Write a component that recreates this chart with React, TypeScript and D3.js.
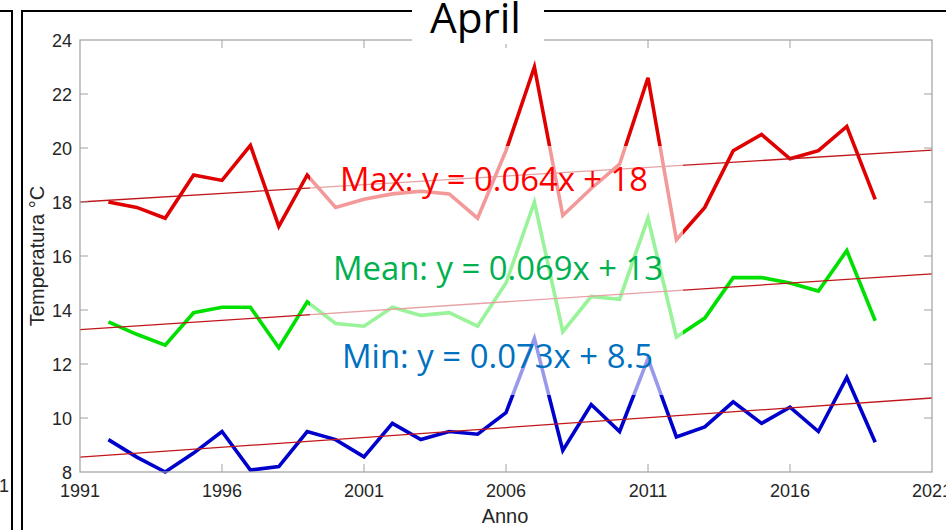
import React from "react";
import * as d3 from "d3";

const years = [1992, 1993, 1994, 1995, 1996, 1997, 1998, 1999, 2000, 2001, 2002, 2003, 2004, 2005, 2006, 2007, 2008, 2009, 2010, 2011, 2012, 2013, 2014, 2015, 2016, 2017, 2018, 2019];
const maxTemps = [18.0, 17.8, 17.4, 19.0, 18.8, 20.1, 17.1, 19.0, 17.8, 18.1, 18.3, 18.4, 18.3, 17.4, 19.9, 23.0, 17.5, 18.5, 19.4, 22.6, 16.6, 17.8, 19.9, 20.5, 19.6, 19.9, 20.8, 18.1];
const meanTemps = [13.56, 13.1, 12.7, 13.9, 14.1, 14.1, 12.6, 14.3, 13.5, 13.4, 14.1, 13.8, 13.9, 13.4, 15.0, 18.0, 13.2, 14.5, 14.4, 17.4, 13.0, 13.7, 15.2, 15.2, 15.0, 14.7, 16.2, 13.6];
const minTemps = [9.2, 8.55, 8.0, 8.7, 9.5, 8.07, 8.2, 9.5, 9.2, 8.56, 9.8, 9.2, 9.5, 9.4, 10.2, 12.95, 8.8, 10.5, 9.5, 12.2, 9.3, 9.67, 10.6, 9.8, 10.4, 9.5, 11.5, 9.1];

const seriesNames = ["Max", "Mean", "Min"];
const seriesColors = ["#e00000", "#00e000", "#0000cc"];
const trendSlopes = [0.064, 0.069, 0.073];
const trendStart = [18.0, 13.27, 8.55]; // value at 1991
const labelTexts = ["Max: y = 0.064x + 18", "Mean: y = 0.069x + 13", "Min: y = 0.073x + 8.5"];
const labelColors = ["#ff0000", "#00b050", "#0070c0"];

const xTicks = [1991, 1996, 2001, 2006, 2011, 2016, 2021];
const yTicks = [8, 10, 12, 14, 16, 18, 20, 22, 24];

const W = 946;
const H = 530;
const L = 80, R = 932, T = 40, B = 472;

export default function App() {
  const x = d3.scaleLinear().domain([1991, 2021]).range([L, R]);
  const y = d3.scaleLinear().domain([8, 24]).range([B, T]);
  const line = d3.line<[number, number]>().x((d) => x(d[0])).y((d) => y(d[1]));
  const data = [maxTemps, meanTemps, minTemps];
  const axisColor = "#a0a0a0";
  const tickColor = "#262626";
  const tickFont = "'Liberation Sans', Arial, Helvetica, sans-serif";

  return (
    <svg width={W} height={H} style={{ position: "absolute", left: 0, top: 0, background: "#fff" }}>
      <rect x={0} y={0} width={W} height={H} fill="#fff" />
      {/* previous panel fragments */}
      <path d="M0,11 H12 V530" fill="none" stroke="#000" strokeWidth={2} />
      <text x={-1} y={492} fontFamily={tickFont} fontSize={18} fill={tickColor}>1</text>
      {/* frame */}
      <path d={`M22,530 V11 H946`} fill="none" stroke="#000" strokeWidth={2} />

      {/* data lines */}
      {data.map((vals, i) => (
        <path
          key={seriesNames[i]}
          d={line(years.map((yr, j) => [yr, vals[j]] as [number, number])) || ""}
          fill="none"
          stroke={seriesColors[i]}
          strokeWidth={3.6}
          strokeLinejoin="miter"
        />
      ))}
      {/* trend lines */}
      {trendSlopes.map((s, i) => (
        <line
          key={"t" + i}
          x1={x(1991)}
          y1={y(trendStart[i])}
          x2={x(2021)}
          y2={y(trendStart[i] + s * 30)}
          stroke="#c0161b"
          strokeWidth={1.3}
        />
      ))}

      {/* axes box */}
      <rect x={L} y={T} width={R - L} height={B - T} fill="none" stroke={axisColor} strokeWidth={1.2} />
      {xTicks.slice(1, -1).map((t) => (
        <g key={"xt" + t}>
          <line x1={x(t)} x2={x(t)} y1={B} y2={B - 8} stroke={axisColor} />
          <line x1={x(t)} x2={x(t)} y1={T} y2={T + 8} stroke={axisColor} />
        </g>
      ))}
      {yTicks.slice(1, -1).map((t) => (
        <g key={"yt" + t}>
          <line x1={L} x2={L + 8} y1={y(t)} y2={y(t)} stroke={axisColor} />
          <line x1={R} x2={R - 8} y1={y(t)} y2={y(t)} stroke={axisColor} />
        </g>
      ))}
      {xTicks.map((t) => (
        <text key={"xl" + t} x={x(t)} y={497} textAnchor="middle" fontFamily={tickFont} fontSize={18} fill={tickColor}>
          {t}
        </text>
      ))}
      {yTicks.map((t) => (
        <text key={"yl" + t} x={72} y={y(t) + 6.5} textAnchor="end" fontFamily={tickFont} fontSize={18} fill={tickColor}>
          {t}
        </text>
      ))}
      <text x={505} y={523} textAnchor="middle" fontFamily={tickFont} fontSize={20} fill={tickColor}>Anno</text>
      <text
        x={44}
        y={256}
        textAnchor="middle"
        fontFamily={tickFont}
        fontSize={20}
        fill={tickColor}
        transform="rotate(-90, 44, 256)"
      >
        Temperatura °C
      </text>

      {/* semi-transparent text box */}
      <rect x={310} y={146} width={373} height={249} fill="#fff" fillOpacity={0.6} />
      {labelTexts.map((txt, i) => (
        <text
          key={"lab" + i}
          x={[340, 333, 342][i]}
          y={[191, 280, 368][i]}
          fontFamily="'Open Sans', sans-serif"
          fontSize={33}
          fill={labelColors[i]}
          textLength={[308, 330, 311][i]}
          lengthAdjust="spacingAndGlyphs"
        >
          {txt}
        </text>
      ))}

      {/* title */}
      <rect x={412} y={0} width={132} height={44} fill="#fff" />
      <text x={430} y={33} fontFamily="'Open Sans', sans-serif" fontSize={42} fill="#000" textLength={91} lengthAdjust="spacingAndGlyphs">
        April
      </text>
    </svg>
  );
}
